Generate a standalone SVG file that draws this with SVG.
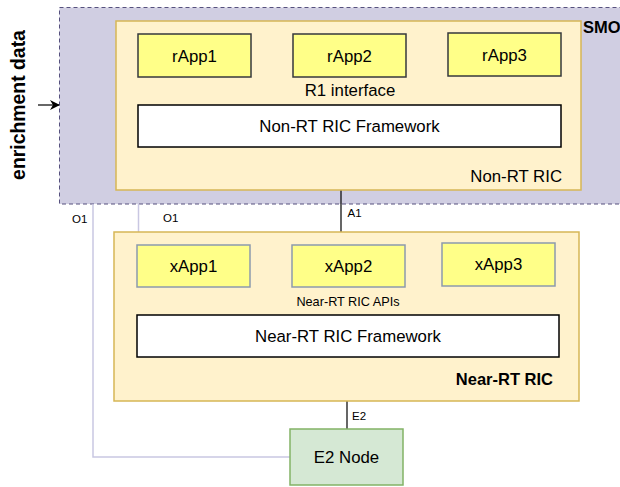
<svg xmlns="http://www.w3.org/2000/svg" width="620" height="487" viewBox="0 0 620 487">
<defs>
<style>
text{font-family:"Liberation Sans",Arial,sans-serif;fill:#000}
.ric{fill:#fff2cc;stroke:#d6b656;stroke-width:1.5}
.rapp{fill:#ffff88;stroke:#36393d;stroke-width:1.5}
.xapp{fill:#ffff88;stroke:#8c9aad;stroke-width:1.5}
.fw{fill:#fff;stroke:#000;stroke-width:1.5}
.t14{font-size:16.8px;text-anchor:middle}
.lbl{font-size:11.5px}
.o1{fill:none;stroke:#c9c7e2;stroke-width:1.5}
.blk{fill:none;stroke:#000;stroke-width:1.2}
</style>
<marker id="arr" markerWidth="10" markerHeight="10" refX="9" refY="5" orient="auto" markerUnits="userSpaceOnUse">
<path d="M0,0 L10,5 L0,10 L3,5 Z" fill="#000"/>
</marker>
</defs>
<rect width="620" height="487" fill="#fff"/>
<g id="smo">
<rect x="59.5" y="7.5" width="570" height="196.5" fill="#d0cee2" stroke="#56517e" stroke-width="1" stroke-dasharray="4,3"/>
<text x="583" y="33" font-size="16.5" font-weight="bold">SMO</text>
</g>
<g id="enrichment">
<text transform="translate(25,105) rotate(-90)" font-size="19.4" font-weight="bold" text-anchor="middle">enrichment data</text>
</g>
<g id="connectors">
<line x1="38" y1="105" x2="59" y2="105" class="blk" marker-end="url(#arr)"/>
<line x1="341" y1="190" x2="341" y2="232" class="blk"/>
<text x="347.5" y="217" class="lbl">A1</text>
<line x1="347" y1="401" x2="347" y2="429" class="blk"/>
<text x="352" y="420" class="lbl">E2</text>
<polyline points="290,457 93,457 93,204" class="o1"/>
<text x="72" y="223" class="lbl">O1</text>
<line x1="138.5" y1="204" x2="138.5" y2="232" class="o1"/>
<text x="163" y="222" class="lbl">O1</text>
</g>
<g id="nonrt-ric">
<rect x="116" y="21" width="465" height="169" class="ric"/>
<text x="562" y="182" font-size="16.8" text-anchor="end">Non-RT RIC</text>
</g>
<g id="rapp1"><rect x="138" y="34" width="113" height="43" class="rapp"/><text x="194.5" y="62" class="t14">rApp1</text></g>
<g id="rapp2"><rect x="293" y="34" width="113" height="43" class="rapp"/><text x="349.5" y="62" class="t14">rApp2</text></g>
<g id="rapp3"><rect x="448" y="33" width="113" height="43" class="rapp"/><text x="504.5" y="61" class="t14">rApp3</text></g>
<g id="r1"><text x="350" y="96" class="t14">R1 interface</text></g>
<g id="nonrt-fw"><rect x="138" y="105" width="423" height="42" class="fw"/><text x="349.5" y="132" class="t14">Non-RT RIC Framework</text></g>
<g id="nearrt-ric">
<rect x="114" y="232" width="465" height="169" class="ric"/>
<text x="553" y="385" font-size="16.5" font-weight="bold" text-anchor="end">Near-RT RIC</text>
</g>
<g id="xapp1"><rect x="137" y="245" width="113" height="42" class="xapp"/><text x="193.5" y="272" class="t14">xApp1</text></g>
<g id="xapp2"><rect x="292" y="245" width="113" height="42" class="xapp"/><text x="348.5" y="272" class="t14">xApp2</text></g>
<g id="xapp3"><rect x="442" y="243" width="113" height="43" class="xapp"/><text x="498.5" y="270" class="t14">xApp3</text></g>
<g id="apis"><text x="348" y="306" font-size="12.7" text-anchor="middle">Near-RT RIC APIs</text></g>
<g id="nearrt-fw"><rect x="137" y="315" width="422" height="42" class="fw"/><text x="348" y="342" class="t14">Near-RT RIC Framework</text></g>
<g id="e2node"><rect x="290" y="429" width="113" height="56" fill="#d5e8d4" stroke="#82b366" stroke-width="1.5"/><text x="346.5" y="463" class="t14">E2 Node</text></g>
</svg>
